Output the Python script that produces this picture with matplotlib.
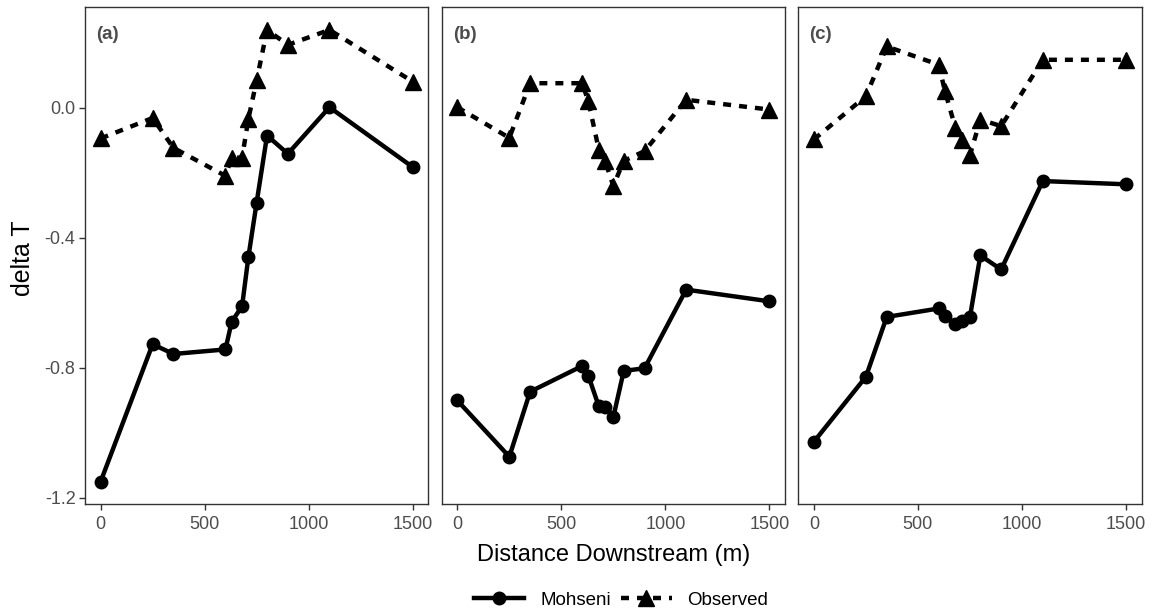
import matplotlib
matplotlib.use("Agg")
import matplotlib.pyplot as plt
from matplotlib.lines import Line2D

plt.rcParams['font.family'] = ['Liberation Sans', 'DejaVu Sans']

distance = [0, 250, 350, 600, 630, 680, 710, 750, 800, 900, 1100, 1500]

mohseni_a = [-1.151, -0.728, -0.758, -0.744, -0.659, -0.611, -0.461, -0.292, -0.086, -0.142, 0.001, -0.183]
observed_a = [-0.095, -0.032, -0.124, -0.210, -0.154, -0.154, -0.036, 0.084, 0.239, 0.193, 0.239, 0.080]

mohseni_b = [-0.901, -1.074, -0.874, -0.795, -0.825, -0.919, -0.921, -0.952, -0.810, -0.802, -0.560, -0.596]
observed_b = [0.001, -0.093, 0.075, 0.075, 0.019, -0.129, -0.164, -0.241, -0.164, -0.134, 0.024, -0.006]

mohseni_c = [-1.028, -0.828, -0.644, -0.618, -0.642, -0.666, -0.657, -0.644, -0.455, -0.498, -0.226, -0.236]
observed_c = [-0.098, 0.035, 0.188, 0.132, 0.050, -0.062, -0.101, -0.146, -0.037, -0.057, 0.147, 0.147]

panel_labels = ['(a)', '(b)', '(c)']
x_ticks = [0, 500, 1000, 1500]
y_ticks = [-1.2, -0.8, -0.4, 0.0]
y_ticklabels = ['-1.2', '-0.8', '-0.4', '0.0']

mohseni = [mohseni_a, mohseni_b, mohseni_c]
observed = [observed_a, observed_b, observed_c]

W, H = 1152, 615
fig = plt.figure(figsize=(W / 100, H / 100), dpi=100)

lefts = [85, 441.7, 798.3]
top_px, bot_px = 7.3, 504
width_px = 343.3
dash = (0, (1.8, 1.8))
edge = '#333333'
tickcol = '#4D4D4D'

axes = []
for i in range(3):
    ax = fig.add_axes([lefts[i] / W, 1 - bot_px / H, width_px / W, (bot_px - top_px) / H])
    ax.plot(distance, mohseni[i], color='black', lw=3.2, marker='o', ms=9, solid_capstyle='butt')
    ax.plot(distance, observed[i], color='black', lw=3.2, ls=dash, marker='^', ms=11.5)
    ax.set_xlim(-75, 1575)
    ax.set_ylim(-1.2195, 0.3085)
    ax.set_xticks(x_ticks)
    ax.set_xticklabels([str(t) for t in x_ticks])
    ax.set_yticks(y_ticks)
    if i == 0:
        ax.set_yticklabels(y_ticklabels)
    else:
        ax.tick_params(axis='y', left=False, labelleft=False)
    ax.tick_params(axis='both', colors=edge, labelcolor=tickcol, labelsize=13, length=4.3, width=1.0)
    ax.tick_params(axis='x', pad=4.5)
    ax.tick_params(axis='y', pad=2.5)
    for s in ax.spines.values():
        s.set_color(edge)
        s.set_linewidth(1.0)
    ax.text(0.032, 0.962, panel_labels[i], transform=ax.transAxes, ha='left', va='top',
            fontsize=13.5, fontweight='bold', color=tickcol)
    axes.append(ax)

center_x = 0.5 * (lefts[0] + lefts[2] + width_px) / W
fig.text(center_x, 1 - 555 / H, 'Distance Downstream (m)',
         ha='center', va='center', fontsize=17, color='black')
fig.text(23 / W, 1 - 258 / H, 'delta T', ha='center', va='center', rotation=90, fontsize=18, color='black')

handles = [
    Line2D([], [], color='black', lw=3.2, marker='o', ms=9),
    Line2D([], [], color='black', lw=3.2, ls=dash, marker='^', ms=11.5),
]
fig.legend(handles, ['Mohseni', 'Observed'], loc='center', bbox_to_anchor=(621 / W, 1 - 600 / H),
           ncol=2, frameon=False, fontsize=13.5, handlelength=2.7, columnspacing=0.55, handletextpad=0.85)

fig.savefig('out.png', dpi=100)
